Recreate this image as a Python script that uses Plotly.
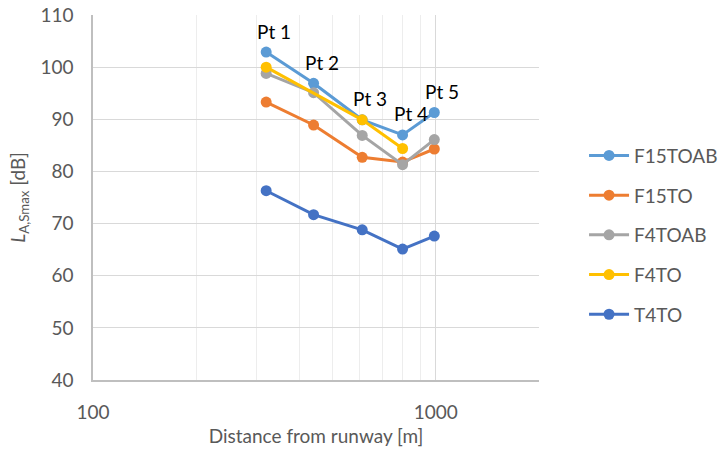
import plotly.graph_objects as go
import numpy as np

distance = [320, 440, 610, 800, 990]
point_labels = ["Pt 1", "Pt 2", "Pt 3", "Pt 4", "Pt 5"]

F15TOAB = [102.9, 96.9, 89.9, 87.0, 91.3]
F15TO = [93.3, 88.9, 82.7, 81.8, 84.3]
F4TOAB = [98.8, 95.1, 86.9, 81.3, 86.1]
F4TO = [100.0, None, 89.9, 84.4, None]
T4TO = [76.3, 71.7, 68.8, 65.1, 67.6]

series = [
    ("F15TOAB", F15TOAB, "#5B9BD5"),
    ("F15TO", F15TO, "#ED7D31"),
    ("F4TOAB", F4TOAB, "#A5A5A5"),
    ("F4TO", F4TO, "#FFC000"),
    ("T4TO", T4TO, "#4472C4"),
]

FONT = "Lato"
fig = go.Figure()
for name, vals, col in series:
    xs = [d for d, v in zip(distance, vals) if v is not None]
    ys = [v for v in vals if v is not None]
    fig.add_trace(go.Scatter(
        x=xs, y=ys, name=name, mode="lines+markers",
        line=dict(color=col, width=3),
        marker=dict(color=col, size=11),
        legendgroup=name,
    ))

for d, v, lab in zip(distance, F15TOAB, point_labels):
    fig.add_annotation(x=np.log10(d), y=v, text=lab, showarrow=False,
                       xshift=8, yshift=21,
                       font=dict(family=FONT, size=19, color="#000000"))

fig.update_layout(
    width=721, height=454,
    margin=dict(l=93, r=182, t=15, b=74, autoexpand=False),
    paper_bgcolor="white", plot_bgcolor="white",
    font=dict(family=FONT, size=19, color="#595959"),
    legend=dict(x=1.101, y=0.397, xanchor="left", yanchor="middle",
                tracegroupgap=12, font=dict(size=19, color="#595959"),
                itemwidth=40),
    showlegend=True,
)
fig.update_xaxes(
    type="log", range=[2, np.log10(2000)],
    tickvals=[100, 1000], ticktext=["100", "1000"],
    showgrid=True, gridcolor="#D9D9D9", gridwidth=1,
    minor=dict(dtick="D1", showgrid=True, gridcolor="#EDEDED", gridwidth=1),
    showline=True, linecolor="#BFBFBF", linewidth=1.5,
    ticks="", ticklabelstandoff=14,
    title=dict(text="Distance from runway [m]", standoff=8,
               font=dict(size=19, color="#595959")),
    zeroline=False,
)
fig.update_yaxes(
    range=[40, 110], dtick=10,
    showgrid=True, gridcolor="#D9D9D9", gridwidth=1,
    showline=True, linecolor="#BFBFBF", linewidth=1.5,
    ticks="", ticklabelstandoff=14,
    title=dict(text="<i>L</i><sub>A,Smax</sub> [dB]", standoff=10,
               font=dict(size=19, color="#595959")),
    zeroline=False,
)

fig.write_html("out.html")
